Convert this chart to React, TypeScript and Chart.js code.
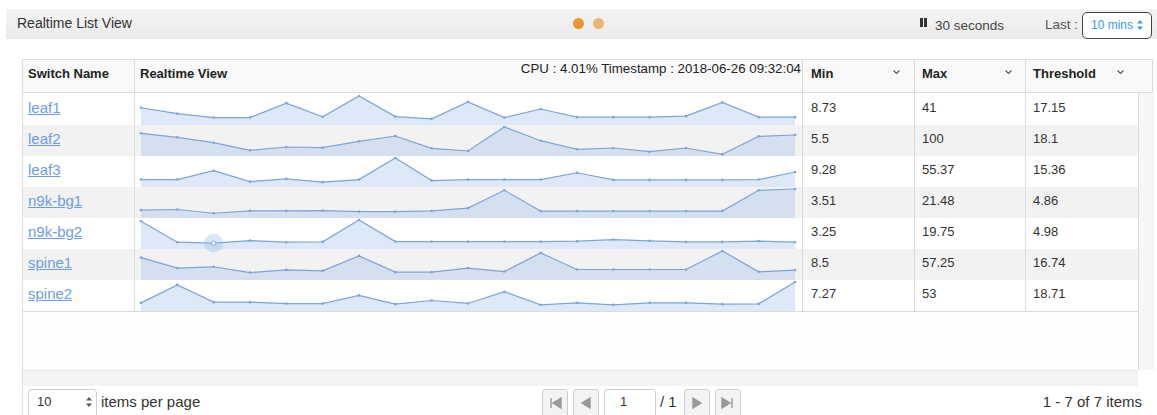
import React, { useEffect, useRef } from "react";
import { Chart, registerables } from "chart.js";

Chart.register(...registerables);

// ---------------- data ----------------
const switchNames = ["leaf1", "leaf2", "leaf3", "n9k-bg1", "n9k-bg2", "spine1", "spine2"];
const minValues = ["8.73", "5.5", "9.28", "3.51", "3.25", "8.5", "7.27"];
const maxValues = ["41", "100", "55.37", "21.48", "19.75", "57.25", "53"];
const thresholdValues = ["17.15", "18.1", "15.36", "4.86", "4.98", "16.74", "18.71"];

const timeLabels = [
  "09:31:04", "09:31:34", "09:32:04", "09:32:34", "09:33:04", "09:33:34", "09:34:04",
  "09:34:34", "09:35:04", "09:35:34", "09:36:04", "09:36:34", "09:37:04", "09:37:34",
  "09:38:04", "09:38:34", "09:39:04", "09:39:34", "09:40:04",
];

const leaf1Cpu = [24.4, 16.1, 10.5, 10.5, 30.9, 11.5, 41, 11.9, 8.73, 32.7, 10.5, 22.6, 11.1, 11.1, 11.1, 12.5, 31.9, 11.1, 11.1];
const leaf2Cpu = [78.3, 64.5, 45.9, 19.7, 31, 28.6, 50.7, 69, 26.6, 17.3, 100, 52.8, 23.1, 27.6, 14.8, 27.6, 5.5, 68, 72.4];
const leaf3Cpu = [14.2, 14.2, 31.1, 10.3, 15.5, 9.28, 14.2, 55.37, 12.2, 14.2, 14.2, 14.2, 27.2, 13.6, 13.6, 13.6, 13.6, 14.2, 28.6];
const n9kBg1Cpu = [5.8, 6.3, 3.51, 5.3, 5.3, 5.5, 4.75, 4.75, 5.3, 7.3, 20.5, 5.1, 5.1, 5.1, 5.1, 5.1, 5.1, 20.5, 21.48];
const n9kBg2Cpu = [18.9, 4.64, 4.01, 5.75, 4.64, 4.85, 19.75, 5.06, 5.06, 5.06, 5.06, 5.06, 5.34, 6.44, 5.54, 4.85, 4.85, 5.34, 4.64];
const spine1Cpu = [44.2, 23.5, 26.1, 14.7, 20.1, 18.1, 47.6, 15.5, 15.5, 23.5, 16.7, 53.6, 20.7, 20.7, 20.7, 20.7, 57.25, 16.1, 19.5];
const spine2Cpu = [14.9, 47.8, 16.2, 16.2, 13.6, 13.6, 28.5, 12.5, 19.2, 13.8, 35.3, 11.2, 14.9, 11.2, 14.9, 14.9, 12.5, 13.0, 53];

const seriesList = [leaf1Cpu, leaf2Cpu, leaf3Cpu, n9kBg1Cpu, n9kBg2Cpu, spine1Cpu, spine2Cpu];
const hoveredRow = 4;
const hoveredPoint = 2;
const hoverDate = "2018-06-26";

// ---------------- styles ----------------
const FONT = '"Liberation Sans", Arial, Helvetica, sans-serif';
const LINE = "#7ba5dd";
const FILL = "rgba(150,185,232,0.32)";
const BORDER = "#dcdcdc";

const ROW0 = 94;
const ROWH = 31;

function Sparkline({ values, max, hoverIndex, top }: { values: number[]; max: number; hoverIndex: number; top: number }) {
  const ref = useRef<HTMLCanvasElement | null>(null);
  useEffect(() => {
    if (!ref.current) return;
    const datasets: any[] = [
      {
        data: values,
        borderColor: LINE,
        backgroundColor: FILL,
        fill: "origin",
        borderWidth: 1.2,
        pointRadius: 1.3,
        pointBackgroundColor: LINE,
        pointBorderWidth: 0,
        tension: 0,
        clip: false,
        order: 2,
      },
    ];
    if (hoverIndex >= 0) {
      datasets.push({
        data: values.map((v, i) => (i === hoverIndex ? v : null)),
        showLine: false,
        fill: false,
        clip: false,
        pointRadius: 9.5,
        pointBackgroundColor: "rgba(150,185,232,0.35)",
        pointBorderWidth: 0,
        order: 1,
      });
      datasets.push({
        data: values.map((v, i) => (i === hoverIndex ? v : null)),
        showLine: false,
        fill: false,
        clip: false,
        pointRadius: 2.2,
        pointBackgroundColor: "#ffffff",
        pointBorderColor: LINE,
        pointBorderWidth: 1,
        order: 0,
      });
    }
    const chart = new Chart(ref.current, {
      type: "line",
      data: { labels: timeLabels, datasets },
      options: {
        animation: false,
        responsive: false,
        maintainAspectRatio: false,
        events: [],
        layout: { autoPadding: false, padding: { left: 4, right: 4, top: 2, bottom: 5 } },
        plugins: { legend: { display: false }, tooltip: { enabled: false } },
        scales: {
          x: { display: false, offset: false },
          y: { display: false, min: 0, max },
        },
      } as any,
    });
    return () => chart.destroy();
  }, []);
  return (
    <canvas
      ref={ref}
      width={662}
      height={36}
      style={{ position: "absolute", left: 137, top, width: 662, height: 36 }}
    />
  );
}

function Chevron({ x, y }: { x: number; y: number }) {
  return (
    <svg width={9} height={6} style={{ position: "absolute", left: x, top: y }}>
      <path d="M1.5 1.5 L4.5 4.5 L7.5 1.5" stroke="#555" strokeWidth={1.1} fill="none" />
    </svg>
  );
}

function PageButton({ x, kind }: { x: number; kind: string }) {
  let path = "";
  if (kind === "first") path = "M9 9 L9 19 M19 9 L11 14 L19 19 Z";
  if (kind === "prev") path = "M17 9 L9 14 L17 19 Z";
  if (kind === "next") path = "M9 9 L17 14 L9 19 Z";
  if (kind === "last") path = "M17 9 L17 19 M7 9 L15 14 L7 19 Z";
  return (
    <div
      style={{
        position: "absolute",
        left: x,
        top: 389,
        width: 26,
        height: 30,
        boxSizing: "border-box",
        border: "1px solid #cfcfcf",
        borderRadius: 3,
        background: "#f3f3f3",
      }}
    >
      <svg width={26} height={28} style={{ position: "absolute", left: -1, top: -1 }}>
        <path d={path} fill="#9a9a9a" stroke="#9a9a9a" strokeWidth={1.4} />
      </svg>
    </div>
  );
}

export default function App() {
  const abs = (s: any) => ({ position: "absolute" as const, ...s });
  const cpuText = `CPU : ${n9kBg2Cpu[hoveredPoint].toFixed(2)}% Timestamp : ${hoverDate} ${timeLabels[hoveredPoint]}`;
  const colLines = [134, 802, 914, 1025];
  return (
    <div
      style={{
        position: "absolute",
        left: 0,
        top: 0,
        width: 1157,
        height: 415,
        overflow: "hidden",
        background: "#ffffff",
        fontFamily: FONT,
        color: "#333",
      }}
    >
      {/* title bar */}
      <div style={abs({ left: 6, top: 9, width: 1151, height: 30, background: "linear-gradient(#f4f4f4, #eaeaea)" })} />
      <div style={abs({ left: 17, top: 8, lineHeight: "30px", fontSize: 14, color: "#333" })}>Realtime List View</div>
      <div style={abs({ left: 572.5, top: 17.5, width: 11, height: 11, borderRadius: 6, background: "#e8962e" })} />
      <div style={abs({ left: 592.5, top: 17.5, width: 11, height: 11, borderRadius: 6, background: "#edb670" })} />
      <div style={abs({ left: 920, top: 18, width: 2.6, height: 9, background: "#333" })} />
      <div style={abs({ left: 924, top: 18, width: 2.6, height: 9, background: "#333" })} />
      <div style={abs({ left: 935, top: 10.5, lineHeight: "30px", fontSize: 13.5, color: "#444" })}>30 seconds</div>
      <div style={abs({ left: 1045, top: 10, lineHeight: "30px", fontSize: 13.5, color: "#555" })}>Last :</div>
      <div
        style={abs({
          left: 1082,
          top: 12,
          width: 70,
          height: 27,
          boxSizing: "border-box",
          border: "1px solid #444",
          borderRadius: 5,
          background: "#fff",
        })}
      />
      <div style={abs({ left: 1091, top: 12, lineHeight: "27px", fontSize: 12, color: "#3a9ae8" })}>10 mins</div>
      <svg width={8} height={12} style={abs({ left: 1136, top: 19 })}>
        <path d="M1 4.5 L4 1 L7 4.5 Z M1 7.5 L4 11 L7 7.5 Z" fill="#3a9ae8" />
      </svg>

      {/* table header */}
      <div
        style={abs({
          left: 22,
          top: 59,
          width: 1131,
          height: 34,
          boxSizing: "border-box",
          borderTop: `1px solid ${BORDER}`,
          borderBottom: `1px solid ${BORDER}`,
          borderRight: `1px solid ${BORDER}`,
          background: "#f9f9f9",
        })}
      />
      {colLines.map((x) => (
        <div key={"h" + x} style={abs({ left: x, top: 59, width: 1, height: 34, background: BORDER })} />
      ))}
      <div style={abs({ left: 28, top: 59, lineHeight: "30px", fontSize: 13, fontWeight: "bold", color: "#222" })}>Switch Name</div>
      <div style={abs({ left: 140, top: 59, lineHeight: "30px", fontSize: 13, fontWeight: "bold", color: "#222" })}>Realtime View</div>
      <div style={abs({ left: 811, top: 59, lineHeight: "30px", fontSize: 13, fontWeight: "bold", color: "#222" })}>Min</div>
      <div style={abs({ left: 922, top: 59, lineHeight: "30px", fontSize: 13, fontWeight: "bold", color: "#222" })}>Max</div>
      <div style={abs({ left: 1033, top: 59, lineHeight: "30px", fontSize: 13, fontWeight: "bold", color: "#222" })}>Threshold</div>
      <Chevron x={892} y={69} />
      <Chevron x={1004} y={69} />
      <Chevron x={1116} y={69} />
      <div
        style={abs({
          left: 300,
          width: 501,
          top: 60,
          lineHeight: "18px",
          fontSize: 13.3,
          color: "#222",
          textAlign: "right",
          whiteSpace: "nowrap",
        })}
      >
        {cpuText}
      </div>

      {/* body background */}
      <div style={abs({ left: 22, top: 93, width: 1116, height: 277, background: "#fdfdfd" })} />
      <div style={abs({ left: 1138, top: 93, width: 15, height: 277, background: "#f6f6f6", borderLeft: `1px solid ${BORDER}` })} />
      <div style={abs({ left: 22, top: 370, width: 1116, height: 15, background: "#f3f3f3", borderTop: "1px solid #e8e8e8" })} />
      <div style={abs({ left: 22, top: 59, width: 1, height: 360, background: BORDER })} />

      {/* rows */}
      {switchNames.map((n, i) => (
        <div
          key={"r" + n}
          style={abs({ left: 23, top: ROW0 + i * ROWH, width: 1115, height: ROWH, background: i % 2 === 0 ? "#ffffff" : "#f2f2f2" })}
        />
      ))}
      <div style={abs({ left: 22, top: ROW0 + 7 * ROWH, width: 1116, height: 1, background: BORDER })} />
      {colLines.map((x) => (
        <div key={"b" + x} style={abs({ left: x, top: 93, width: 1, height: 7 * ROWH + 1, background: BORDER })} />
      ))}
      {switchNames.map((n, i) => {
        const top = ROW0 + i * ROWH;
        return (
          <React.Fragment key={"t" + n}>
            <div
              style={abs({
                left: 28,
                top,
                lineHeight: "28px",
                fontSize: 15,
                color: "#6c9de3",
                textDecoration: "underline",
              })}
            >
              {n}
            </div>
            <div style={abs({ left: 811, top, lineHeight: "28px", fontSize: 13 })}>{minValues[i]}</div>
            <div style={abs({ left: 922, top, lineHeight: "28px", fontSize: 13 })}>{maxValues[i]}</div>
            <div style={abs({ left: 1033, top, lineHeight: "28px", fontSize: 13 })}>{thresholdValues[i]}</div>
          </React.Fragment>
        );
      })}
      {seriesList.map((s, i) => (
        <Sparkline
          key={"s" + i}
          values={s}
          max={parseFloat(maxValues[i])}
          hoverIndex={i === hoveredRow ? hoveredPoint : -1}
          top={ROW0 + i * ROWH}
        />
      ))}

      {/* footer */}
      <div
        style={abs({
          left: 28,
          top: 389,
          width: 69,
          height: 30,
          boxSizing: "border-box",
          border: "1px solid #cfcfcf",
          borderRadius: 4,
          background: "#fff",
        })}
      />
      <div style={abs({ left: 37, top: 389, lineHeight: "26px", fontSize: 13, color: "#333" })}>10</div>
      <svg width={8} height={12} style={abs({ left: 85, top: 396 })}>
        <path d="M1 4.5 L4 1 L7 4.5 Z M1 7.5 L4 11 L7 7.5 Z" fill="#555" />
      </svg>
      <div style={abs({ left: 101, top: 389, lineHeight: "26px", fontSize: 15, color: "#333" })}>items per page</div>

      <PageButton x={542} kind="first" />
      <PageButton x={573} kind="prev" />
      <div
        style={abs({
          left: 604,
          top: 389,
          width: 52,
          height: 30,
          boxSizing: "border-box",
          border: "1px solid #cfcfcf",
          borderRadius: 3,
          background: "#fff",
        })}
      />
      <div style={abs({ left: 620, top: 389, lineHeight: "26px", fontSize: 13, color: "#333" })}>1</div>
      <div style={abs({ left: 660, top: 389, lineHeight: "26px", fontSize: 15, color: "#333" })}>/ 1</div>
      <PageButton x={684} kind="next" />
      <PageButton x={715} kind="last" />

      <div style={abs({ left: 900, width: 242, top: 389, lineHeight: "26px", fontSize: 15, color: "#333", textAlign: "right" })}>
        1 - 7 of 7 items
      </div>
    </div>
  );
}
